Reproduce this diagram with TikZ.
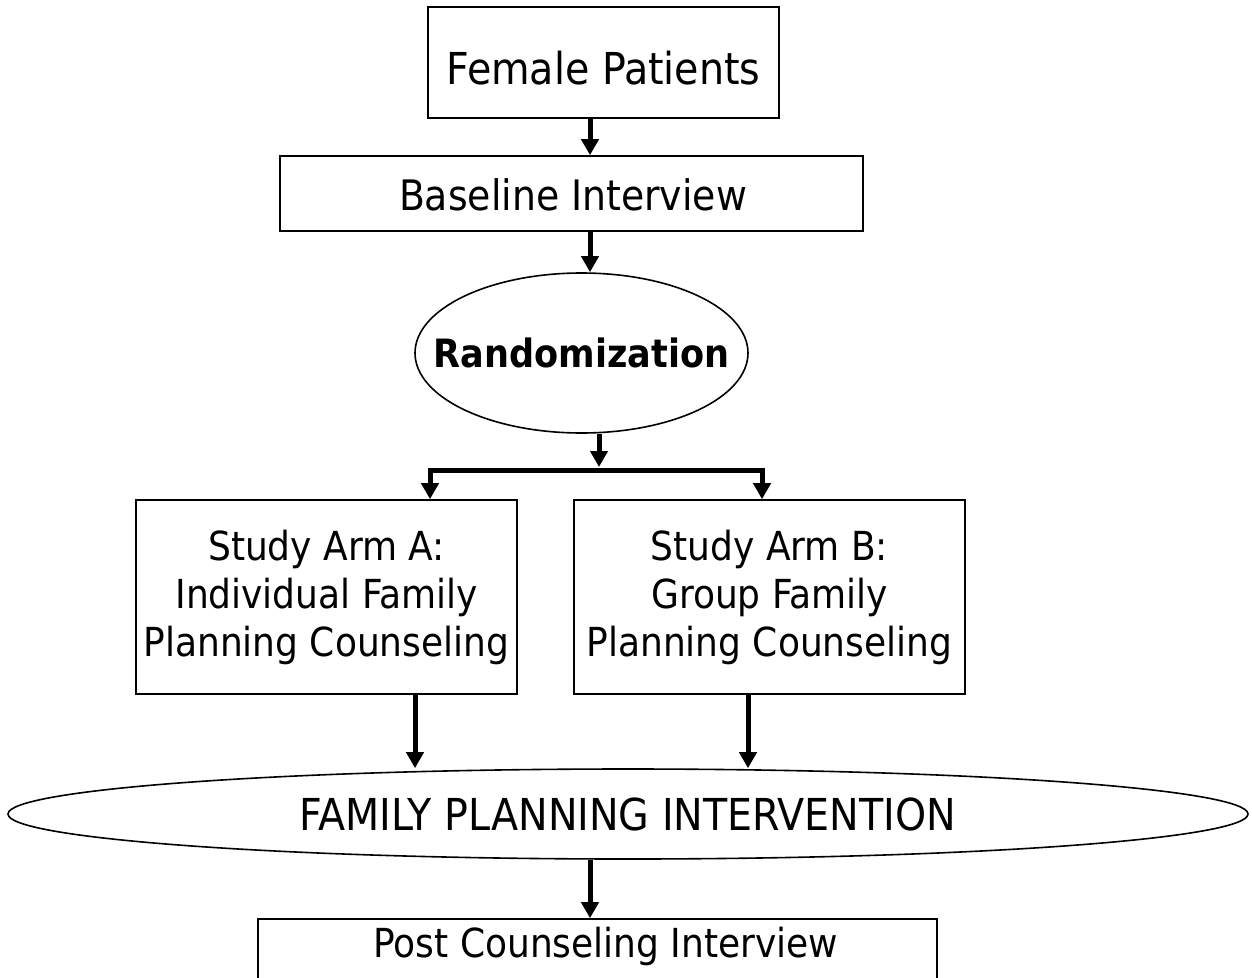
\documentclass[tikz,border=0pt]{standalone}
\usepackage{fontspec}
\setmainfont{DejaVu Sans Condensed}
\usetikzlibrary{shapes.geometric,arrows.meta}

\begin{document}
\begin{tikzpicture}[x=1pt,y=-1pt,
   every node/.style={font=\fontsize{40}{48}\selectfont},
   box/.style={draw,line width=1.6pt,inner sep=0pt},
   oval/.style={draw,ellipse,line width=1.6pt,inner sep=0pt},
   txt/.style={inner sep=0pt,align=center},
   flow/.style={line width=5pt,line join=miter,-{Triangle[width=17pt,length=16pt]}}]
\useasboundingbox (0,0) rectangle (1252,977);
% boxes and ovals
\node[box,minimum width=351pt,minimum height=111pt] (fem) at (603.5,62.5) {};
\node[txt,font=\fontsize{44}{52}\selectfont] (femtxt) at (fem.center) [yshift=-6pt] {Female Patients};
\node[box,minimum width=583pt,minimum height=75pt] (base) at (571.5,193.5) {};
\node[txt,font=\fontsize{42}{50}\selectfont] (basetxt) at (573,195) {Baseline Interview};
\node[oval,minimum width=333pt,minimum height=160pt] (rand) at (581.5,353) {};
\node[txt,font=\fontsize{39}{47}\bfseries] (randtxt) at (rand.center) {Randomization};
\node[box,minimum width=381pt,minimum height=194pt] (armA) at (326.5,597) {};
\node[txt] (armAtxt) at (armA.center) {Study Arm A:\\Individual Family\\Planning Counseling};
\node[box,minimum width=391pt,minimum height=194pt] (armB) at (769.5,597) {};
\node[txt] (armBtxt) at (armB.center) {Study Arm B:\\Group Family\\Planning Counseling};
\node[oval,minimum width=1240pt,minimum height=90pt] (fpi) at (628,814) {};
\node[txt,font=\fontsize{44}{52}\selectfont] (fpitxt) at (fpi.center) {FAMILY PLANNING INTERVENTION};
\node[box,minimum width=679pt,minimum height=80pt] (post) at (597.5,959) {};
\node[txt] (posttxt) at (606,946) {Post Counseling Interview};
% arrow columns
\coordinate (mid) at (590,0);
\coordinate (split) at (599,0);
\coordinate (fork) at (599,470);
\coordinate (ta) at (430,470);
\coordinate (tb) at (762,470);
\coordinate (la) at (415,0);
\coordinate (lb) at (748,0);
% arrows
\draw[flow] (fem.south -| mid) -- (base.north -| mid);
\draw[flow] (base.south -| mid) -- (rand.north -| mid);
\draw[flow,shorten >=3pt] (rand.south -| split) -- (fork);
\draw[flow] (fork) -| (armA.north -| ta);
\draw[flow] (fork) -| (armB.north -| tb);
\draw[flow] (armA.south -| la) -- (fpi.north -| la);
\draw[flow] (armB.south -| lb) -- (fpi.north -| lb);
\draw[flow] (fpi.south -| mid) -- (post.north -| mid);
\end{tikzpicture}
\end{document}
